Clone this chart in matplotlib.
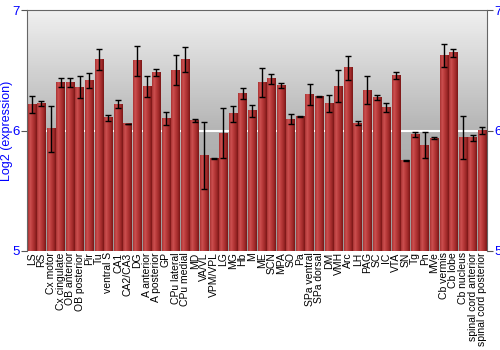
import numpy as np
import matplotlib.pyplot as plt
from matplotlib.colors import LinearSegmentedColormap

plt.rcParams['font.family'] = ['Liberation Sans', 'DejaVu Sans']

# Regions and log2 expression (mean, error)
regions = ['LS', 'RS', 'Cx motor', 'Cx cingulate', 'OB anterior', 'OB posterior',
           'Pir', 'Tu', 'ventral S', 'CA1', 'CA2/CA3', 'DG', 'A anterior',
           'A posterior', 'GP', 'CPu lateral', 'CPu medial', 'MD', 'VA/VL',
           'VPM/VPL', 'LG', 'MG', 'Hb', 'M', 'ME', 'SCN', 'MPA', 'SO', 'Pa',
           'SPa ventral', 'SPa dorsal', 'DM', 'VMH', 'Arc', 'LH', 'PAG', 'SC',
           'IC', 'VTA', 'SN', 'Tg', 'Pn', 'MVe', 'Cb vermis', 'Cb lobe',
           'Cb nucleus', 'spinal cord anterior', 'spinal cord posterior']
means = [6.216, 6.224, 6.014, 6.40, 6.40, 6.36, 6.415, 6.59, 6.105, 6.22,
         6.055, 6.58, 6.366, 6.48, 6.10, 6.50, 6.59, 6.083, 5.79, 5.77,
         5.98, 6.14, 6.31, 6.166, 6.40, 6.43, 6.377, 6.094, 6.12, 6.30,
         6.285, 6.227, 6.37, 6.52, 6.06, 6.335, 6.274, 6.194, 6.457, 5.75,
         5.967, 5.878, 5.936, 6.626, 6.648, 5.94, 5.942, 6.003]
errors = [0.07, 0.02, 0.19, 0.04, 0.035, 0.09, 0.065, 0.09, 0.025, 0.03,
          0.003, 0.125, 0.085, 0.03, 0.05, 0.125, 0.1, 0.01, 0.277, 0.003,
          0.21, 0.065, 0.045, 0.05, 0.12, 0.04, 0.02, 0.04, 0.005, 0.085,
          0.005, 0.07, 0.135, 0.1, 0.018, 0.115, 0.02, 0.036, 0.03, 0.004,
          0.02, 0.107, 0.01, 0.097, 0.033, 0.177, 0.025, 0.028]

ymin, ymax = 5, 7
fig = plt.figure(figsize=(5, 3.5), dpi=100)
ax = fig.add_axes([0.054, 0.283, 0.920, 0.688])

n = len(regions)
x = np.arange(n)
width = 0.88

# background gradient
bg = LinearSegmentedColormap.from_list('bg', ['#9a9a9a', '#b4b4b4', '#f0f0f0'])
ax.imshow(np.linspace(0, 1, 256).reshape(-1, 1), cmap=bg, origin='lower',
          extent=(-0.5, n - 0.5, ymin, ymax), aspect='auto', zorder=0)
ax.axhline(6, color='white', lw=1.5, zorder=1)

# shaded bars
barmap = LinearSegmentedColormap.from_list(
    'bar', ['#a83232', '#cc5050', '#b83a3a', '#a02a2a', '#7a1616'])
grad = np.linspace(0, 1, 64).reshape(1, -1)
for xi, m in zip(x, means):
    ax.imshow(grad, cmap=barmap, origin='lower',
              extent=(xi - width / 2, xi + width / 2, ymin, m),
              aspect='auto', zorder=2)
ax.errorbar(x, means, yerr=errors, fmt='none', ecolor='black', elinewidth=1,
            capsize=2, capthick=1, zorder=3)

ax.set_xlim(-0.5, n - 0.5)
ax.set_ylim(ymin, ymax)
ax.set_xticks(x)
ax.set_xticklabels(regions, rotation=90, fontsize=7.5)
ax.tick_params(axis='x', length=0, pad=1)
ax.set_yticks([5, 6, 7])
ax.tick_params(axis='y', labelsize=9.5, length=4, colors='#555555',
               labelleft=True, labelright=True, left=True, right=True, pad=1)
for lbl in ax.get_yticklabels():
    lbl.set_color('blue')
ax.set_ylabel('Log2 (expression)', color='blue', fontsize=9)
ax.yaxis.set_label_coords(-0.031, 0.5)
for s in ax.spines.values():
    s.set_color('#666666')
ax.spines['bottom'].set_visible(False)

fig.savefig('out.png', dpi=100)
